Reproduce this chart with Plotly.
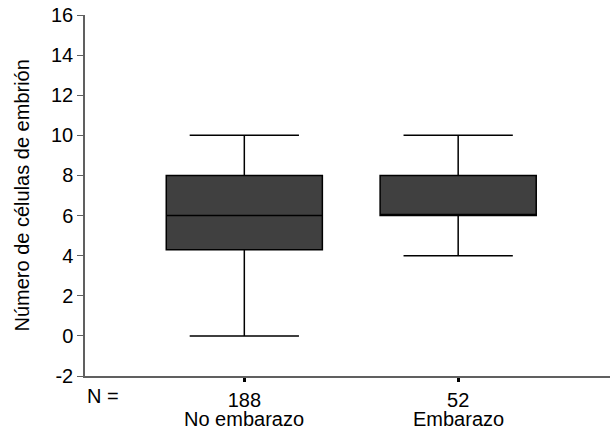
import plotly.graph_objects as go

categories = ["No embarazo", "Embarazo"]
counts = ["188", "52"]
positions = [1, 2]
q1 = [4.3, 6.0]
median = [6.0, 6.0]
q3 = [8.0, 8.0]
lower = [0.0, 4.0]
upper = [10.0, 10.0]
y_ticks = [-2, 0, 2, 4, 6, 8, 10, 12, 14, 16]
y_ticktext = [str(v) for v in y_ticks]
y_title = "Número de células de embrión"

FONT = "Liberation Sans, Arial, sans-serif"
FS = 20
L, R, T, B = 85, 2, 15, 53
W, H = 612, 429
PW = W - L - R

fig = go.Figure()
fig.add_trace(go.Box(
    x=positions, q1=q1, median=median, q3=q3,
    lowerfence=lower, upperfence=upper,
    width=0.73, whiskerwidth=0.7,
    fillcolor="#404040",
    line=dict(color="#000000", width=1.5),
    boxpoints=False, hoverinfo="skip",
))

annotations = [
    dict(text="N =", x=0, xref="paper", xanchor="left",
         y=-0.055, yref="paper", yanchor="middle", showarrow=False),
    dict(text=y_title, x=-(L - 21) / PW, xref="paper", xanchor="center",
         y=0.5, yref="paper", yanchor="middle", textangle=-90, showarrow=False),
]
for p, c in zip(positions, categories):
    annotations.append(dict(text=c, x=p, xref="x", y=-0.118, yref="paper",
                            yanchor="middle", showarrow=False))
for a in annotations:
    a["font"] = dict(family=FONT, size=FS, color="#000")

fig.update_layout(
    width=W, height=H,
    margin=dict(l=L, r=R, t=T, b=B),
    paper_bgcolor="white", plot_bgcolor="white",
    showlegend=False,
    font=dict(family=FONT, size=FS, color="#000"),
    annotations=annotations,
    xaxis=dict(
        range=[0.255, 2.71], tickvals=positions, ticktext=counts,
        showgrid=False, zeroline=False, automargin=False,
        showline=True, linecolor="#606060", linewidth=1.5,
        ticks="outside", ticklen=4, tickwidth=3, tickcolor="#000",
        ticklabelstandoff=1,
        tickfont=dict(family=FONT, size=FS),
    ),
    yaxis=dict(
        range=[-2, 16], tickvals=y_ticks, ticktext=y_ticktext,
        showgrid=False, zeroline=False, automargin=False,
        showline=True, linecolor="#606060", linewidth=1.5,
        ticks="outside", ticklen=6, tickwidth=1, tickcolor="#606060",
        tickfont=dict(family=FONT, size=FS),
    ),
)

fig.write_html("out.html", config={"displayModeBar": False},
               post_script="document.body.style.margin='0';document.body.style.padding='0';")
